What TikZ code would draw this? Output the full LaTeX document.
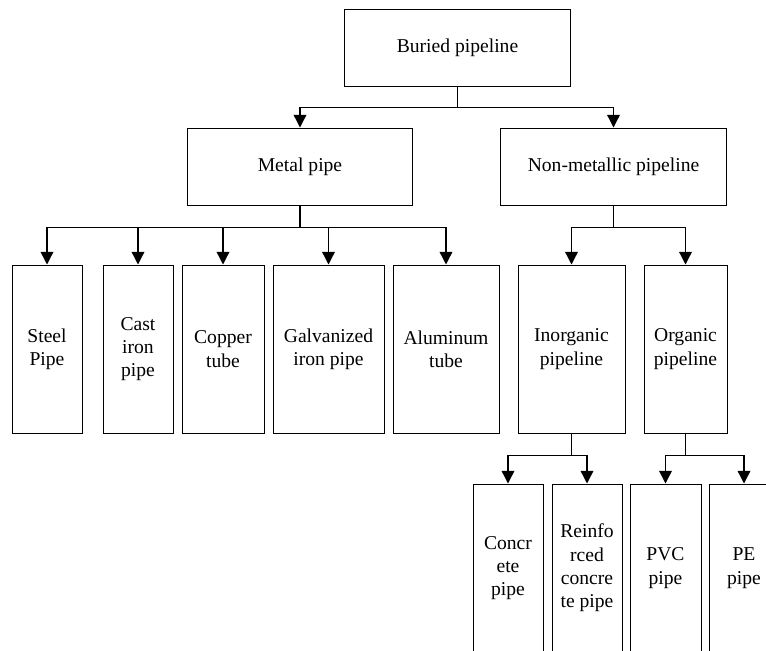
\documentclass[tikz,border=0pt]{standalone}
\usepackage{fontspec}
\setmainfont{Liberation Serif}
\usetikzlibrary{arrows.meta, positioning}

\begin{document}
\begin{tikzpicture}[x=0.75pt, y=-0.75pt,
	box/.style = {
		draw, line width=0.75pt, align=center, inner sep=1pt,
		font=\fontsize{14.7}{17.5}\selectfont
	},
	head/.style = {box, minimum width=169pt, minimum height=57.75pt},
	tall/.style = {box, minimum height=126pt},
	arr/.style = {line width=1pt, -{Triangle[length=9.5pt,width=9.5pt]}}]
	\path [use as bounding box, clip] (0,0) rectangle (766,650);
	% top levels
	\node (root) [head] at (457.5,47.5) {Buried pipeline};
	\node (metal) [head] at (300,166.5) {Metal pipe};
	\node (nonmetal) [head] at (613.5,166.5) {Non-metallic pipeline};
	% first row
	\node (steel) [tall, minimum width=52.5pt] at (47,349) {Steel\\Pipe};
	\node (castiron) [tall, minimum width=52.5pt, right=15pt of steel] {Cast\\iron\\pipe};
	\node (copper) [tall, minimum width=61.5pt, right=6pt of castiron] {Copper\\tube};
	\node (galvanized) [tall, minimum width=83.25pt, right=6pt of copper] {Galvanized\\iron pipe};
	\node (aluminum) [tall, minimum width=79.5pt, right=6pt of galvanized] {Aluminum\\tube};
	\node (inorganic) [tall, minimum width=80.25pt, right=13.5pt of aluminum] {Inorganic\\pipeline};
	\node (organic) [tall, minimum width=62.25pt, right=13.5pt of inorganic] {Organic\\pipeline};
	% second row
	\node (concrete) [tall, minimum width=52.5pt] at (508,568) {Concr\\ete\\pipe};
	\node (reinforced) [tall, minimum width=52.5pt, right=6pt of concrete] {Reinfo\\rced\\concre\\te pipe};
	\node (pvc) [tall, minimum width=53.25pt, right=5.25pt of reinforced] {PVC\\pipe};
	\node (pe) [tall, minimum width=52.5pt, right=5.25pt of pvc] {PE\\pipe};
	% connectors
	\foreach \c in {metal,nonmetal}
		\draw [arr] (root.south) -- ++(0,21) -| (\c.north);
	\foreach \c in {steel,castiron,copper,galvanized,aluminum}
		\draw [arr] (metal.south) -- ++(0,22) -| (\c.north);
	\foreach \c in {inorganic,organic}
		\draw [arr] (nonmetal.south) -- ++(0,22) -| (\c.north);
	\foreach \c in {concrete,reinforced}
		\draw [arr] (inorganic.south) -- ++(0,22) -| (\c.north);
	\foreach \c in {pvc,pe}
		\draw [arr] (organic.south) -- ++(0,22) -| (\c.north);
\end{tikzpicture}
\end{document}
